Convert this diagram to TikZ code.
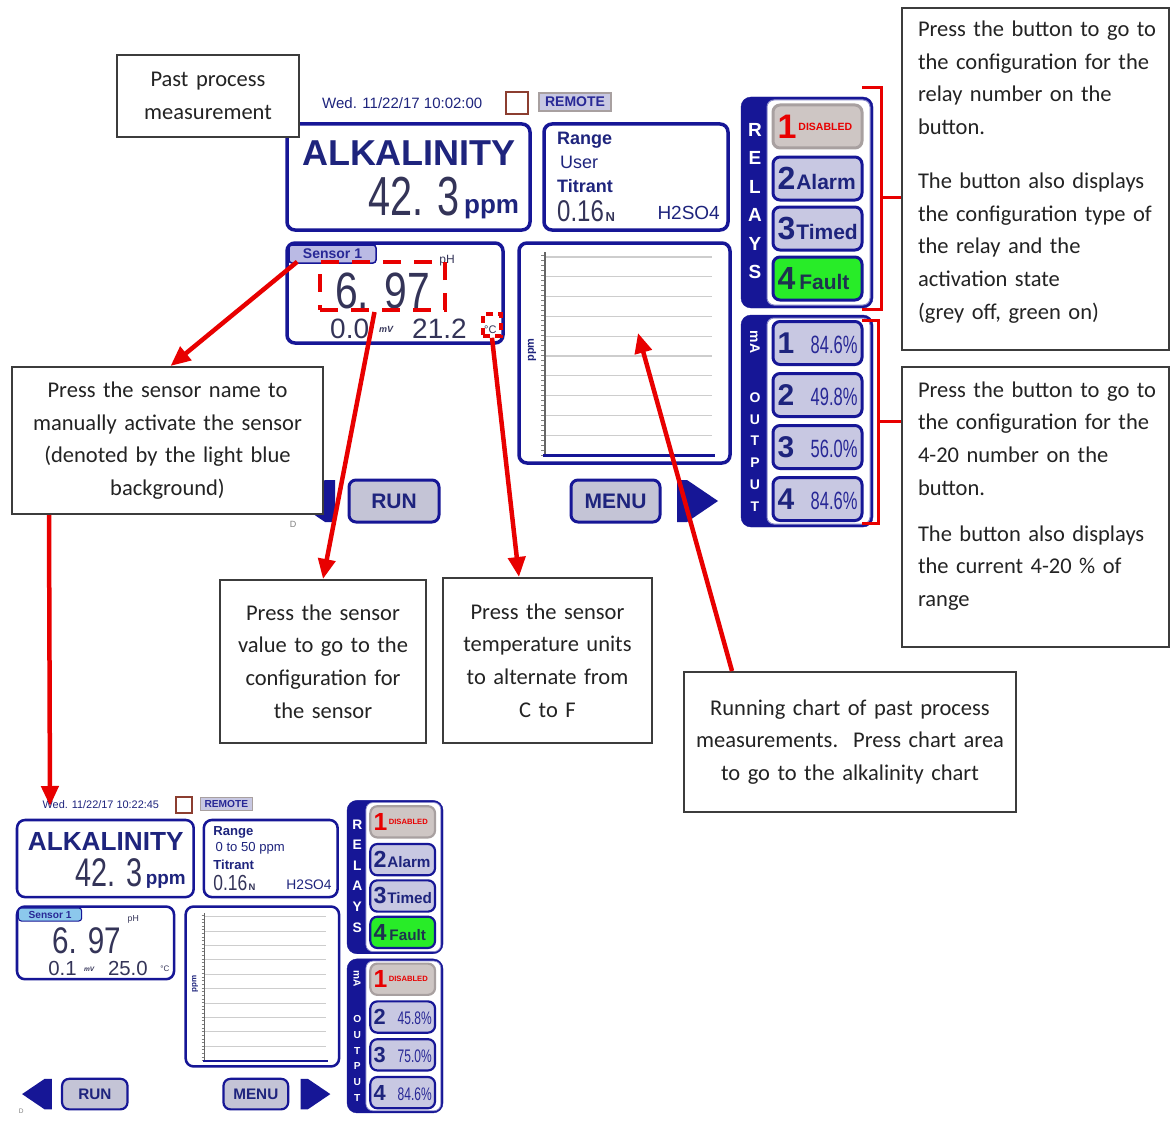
\documentclass[tikz,border=0pt]{standalone}
\usepackage{fontspec}
\setmainfont{Carlito}
\newfontfamily\scr{Liberation Sans}
\usetikzlibrary{arrows.meta,calc}
\definecolor{navy}{RGB}{22,22,150}
\definecolor{navytext}{RGB}{30,36,125}
\definecolor{digit}{RGB}{52,52,88}
\definecolor{btnfill}{RGB}{200,200,226}
\definecolor{runfill}{RGB}{196,196,214}
\definecolor{disfill}{RGB}{206,198,196}
\definecolor{disline}{RGB}{168,160,160}
\definecolor{faultgreen}{RGB}{40,236,40}
\definecolor{faulttext}{RGB}{30,50,80}
\definecolor{redline}{RGB}{232,0,0}
\definecolor{tabgrey}{RGB}{186,186,228}
\definecolor{tabblue}{RGB}{140,200,236}
\definecolor{gridgrey}{RGB}{205,205,205}
\definecolor{boxline}{RGB}{60,60,60}
\definecolor{notetext}{RGB}{35,35,35}
\definecolor{brownsq}{RGB}{140,62,48}
\definecolor{pcttext}{RGB}{40,40,150}
\newcommand\myfs[1]{\fontsize{#1}{#1}\selectfont}
\newcommand\condtxt[3]{\scalebox{#1}[1]{\myfs{#2}#3}}
\newcommand\outtxt[2]{\makebox[80pt]{\bfseries\myfs{30}#1\hfill\mdseries\color{pcttext}\condtxt{0.66}{25}{#2}}}
\newcommand\distxt{\makebox[80pt][l]{\color{redline}\bfseries\myfs{34}1\hspace{2pt}\raisebox{8pt}{\myfs{10.5}DISABLED}}}

\newcommand\drawscreen[1]{%
  \node[anchor=west, inner sep=0, text=navytext] (#1date) at (35,-21) {\scr\myfs{15}\Sdate};
  \draw[brownsq, line width=2.5pt*\lwf] (219,-32) rectangle (241,-10);
  \node[draw=disline, fill=btnfill, line width=1.5pt*\lwf, minimum width=72pt, minimum height=18pt, inner sep=0, text=pcttext] (#1remote) at (288,-22) {\scr\bfseries\myfs{14}REMOTE};
  % alkalinity
  \draw[scrbox] (0,0) rectangle (243,106);
  \node[inner sep=0, text=navytext] (#1alk) at (122,29) {\scr\bfseries\myfs{36}ALKALINITY};
  \node[anchor=base east, inner sep=0, text=digit] (#1val) at (173,91) {\scr\condtxt{0.72}{55}{42. 3}};
  \node[anchor=base west, inner sep=0, text=navytext] (#1ppm) at (177,89) {\scr\bfseries\myfs{26}ppm};
  % range
  \draw[scrbox] (257,0) rectangle (441,106);
  \node[anchor=base west, inner sep=0, text=navytext] (#1rng) at (270,21) {\scr\bfseries\myfs{18}Range};
  \node[anchor=base west, inner sep=0, text=navytext] (#1rngv) at (273,44) {\scr\myfs{18}\Srange};
  \node[anchor=base west, inner sep=0, text=navytext] (#1tit) at (270,68) {\scr\bfseries\myfs{18}Titrant};
  \node[anchor=base west, inner sep=0, text=digit] (#1titv) at (270,97) {\scr\condtxt{0.8}{30}{0.16}\,\bfseries\myfs{13}N};
  \node[anchor=base east, inner sep=0, text=navytext] (#1acid) at (433,95) {\scr\myfs{19}H2SO4};
  % sensor
  \draw[scrbox] (0,119) rectangle (216,219);
  \node[tabfill, draw=navy, line width=1.5pt*\lwf, rounded corners=3pt, minimum width=87pt, minimum height=18pt, inner sep=0, text=pcttext] (#1sens) at (45.5,130) {\scr\bfseries\myfs{14}Sensor 1};
  \node[inner sep=0, text=digit] (#1ph) at (160,137) {\scr\myfs{12}pH};
  \node[anchor=base west, inner sep=0, text=digit] (#1sv) at (48,184) {\scr\condtxt{0.8}{51}{6. 97}};
  \node[anchor=base west, inner sep=0, text=digit] (#1mv) at (43,214) {\scr\myfs{28}\Sva};
  \node[anchor=base west, inner sep=0, text=digit] (#1mvu) at (92,208) {\scr\bfseries\itshape\myfs{9}mV};
  \node[anchor=base west, inner sep=0, text=digit] (#1tv) at (125,214) {\scr\myfs{28}\Svb};
  \node[anchor=base west, inner sep=0, text=digit] (#1tu) at (197,209) {\scr\myfs{11}°C};
  % chart
  \draw[scrbox] (232,119) rectangle (443,339);
  \foreach \k in {0,...,9} \draw[gridgrey, line width=1.3pt*\lwf] (258,{133+\k*19.8}) -- (425,{133+\k*19.8});
  \foreach \k in {0,...,40} \draw[gray, line width=0.8pt*\lwf] (254,{131+\k*5}) -- (258,{131+\k*5});
  \draw[gray!80!black, line width=1.6pt*\lwf] (258,128) -- (258,331);
  \draw[navy, line width=3pt*\lwf] (256,331) -- (428,331);
  \node[rotate=90, inner sep=0, text=navytext] (#1cy) at (245,226) {\scr\bfseries\myfs{11}ppm};
  % bottom buttons
  \node[scrbtn, fill=runfill, minimum width=90pt, minimum height=42pt] (#1run) at (107,377) {\bfseries\myfs{21}RUN};
  \node[scrbtn, fill=runfill, minimum width=89pt, minimum height=42pt] (#1menu) at (328.5,377) {\bfseries\myfs{21}MENU};
  \fill[navy] (7,377) -- (38,356) -- (48,356) -- (48,398) -- (38,398) -- cycle;
  \fill[navy] (390,356) -- (400,356) -- (431,377) -- (400,398) -- (390,398) -- cycle;
  \node[inner sep=0, text=gray] (#1copy) at (6,400) {\scr\myfs{9}D};
  % relays
  \draw[fill=navy, draw=navy, rounded corners=10pt] (454,-27) rectangle (586,184);
  \draw[fill=white, draw=navy!50, line width=1pt*\lwf, rounded corners=7pt] (480,-24) rectangle (583,181);
  \node[align=center, inner sep=0, text=white, font=\scr\bfseries\fontsize{19}{28.4}\selectfont] (#1rlab) at (468,77) {R\\E\\L\\A\\Y\\S};
  \node[relaydis] (#1r1) at (530.5,2.5) {\distxt};
  \node[scrbtn, fill=btnfill] (#1r2) at (530.5,54.5) {\makebox[80pt][l]{\bfseries\myfs{32}2\hspace{1pt}\myfs{21}Alarm}};
  \node[scrbtn, fill=btnfill] (#1r3) at (530.5,104.5) {\makebox[80pt][l]{\bfseries\myfs{32}3\hspace{1pt}\myfs{21}Timed}};
  \node[scrbtn, fill=faultgreen, text=faulttext] (#1r4) at (530.5,154.5) {\makebox[80pt][l]{\bfseries\myfs{32}4\hspace{4pt}\myfs{21}Fault}};
  % mA output
  \draw[fill=navy, draw=navy, rounded corners=10pt] (454,191) rectangle (586,403);
  \draw[fill=white, draw=navy!50, line width=1pt*\lwf, rounded corners=7pt] (480,194) rectangle (583,400);
  \node[rotate=-90, inner sep=0, text=white] (#1ma) at (468,218) {\scr\bfseries\myfs{14}mA};
  \node[align=center, inner sep=0, text=white, font=\scr\bfseries\fontsize{14}{21.8}\selectfont] (#1olab) at (468,328) {O\\U\\T\\P\\U\\T};
  \node[outone] (#1o1) at (530.5,219) {\Soutone};
  \node[scrbtn, fill=btnfill] (#1o2) at (530.5,271) {\outtxt{2}{\Souttwo}};
  \node[scrbtn, fill=btnfill] (#1o3) at (530.5,323) {\outtxt{3}{\Soutthree}};
  \node[scrbtn, fill=btnfill] (#1o4) at (530.5,375) {\outtxt{4}{\Soutfour}};
}

\begin{document}
\begin{tikzpicture}[x=1pt,y=-1pt,
  scrbox/.style={draw=navy, line width=3.5pt*\lwf, rounded corners=8pt, fill=white},
  scrbtn/.style={draw=navy, line width=3pt*\lwf, rounded corners=7pt, minimum width=89pt, minimum height=43pt, inner sep=0, font=\scr, text=navytext},
  relaydis/.style={scrbtn, fill=disfill, draw=disline},
  note/.style={draw=boxline, line width=2pt, fill=white, inner sep=0, align=center, font=\fontsize{22.5}{32.7}\selectfont, text=notetext},
  notetxt/.style={inner sep=0, align=left, text width=252pt, font=\fontsize{22.5}{32.7}\selectfont, text=notetext},
  redarrow/.style={draw=redline, line width=4.5pt, -{Triangle[length=20pt,width=17pt]}},
  bracket/.style={draw=redline, line width=3pt}]
\useasboundingbox (0,0) rectangle (1175,1121);
\fill[white] (0,0) rectangle (1175,1121);

% ---- top screen
\def\lwf{1}
\def\Sdate{Wed. 11/22/17 10:02:00}
\def\Srange{User}
\def\Sva{0.0}
\def\Svb{21.2}
\def\Soutone{\outtxt{1}{84.6\%}}
\def\Souttwo{49.8\%}
\def\Soutthree{56.0\%}
\def\Soutfour{84.6\%}
\tikzset{tabfill/.style={fill=tabgrey}, outone/.style={scrbtn, fill=btnfill}}
\begin{scope}[shift={(287,124)}]
\drawscreen{T}
\end{scope}

% ---- bottom screen
\def\lwf{0.727}
\def\Sdate{Wed. 11/22/17 10:22:45}
\def\Srange{0 to 50 ppm}
\def\Sva{0.1}
\def\Svb{25.0}
\def\Soutone{\distxt}
\def\Souttwo{45.8\%}
\def\Soutthree{75.0\%}
\def\Soutfour{84.6\%}
\tikzset{tabfill/.style={fill=tabblue}, outone/.style={relaydis}}
\begin{scope}[shift={(17,820)}, scale=0.727, transform shape]
\drawscreen{B}
\end{scope}

% ---- red dashed highlights
\node[draw=redline, dash pattern=on 18pt off 13pt, line width=4pt, minimum width=125pt, minimum height=48pt, inner sep=0] (dashval) at (382.5,286) {};
\node[draw=redline, dash pattern=on 7pt off 5pt, line width=3.5pt, minimum width=18pt, minimum height=22pt, inner sep=0] (dashtemp) at (492,325) {};

% ---- annotation boxes
\node[note, minimum width=182pt, minimum height=82pt, text width=178pt] (past) at (208,96) {Past process\\measurement};
\node[note, minimum width=311pt, minimum height=147pt, text width=305pt] (namenote) at (167.5,440.5) {Press the sensor name to\\manually activate the sensor\\(denoted by the light blue\\background)};
\node[note, minimum width=206pt, minimum height=163pt, text width=200pt] (valuenote) at (323,661.5) {Press the sensor\\value to go to the\\configuration for\\the sensor};
\node[note, minimum width=209pt, minimum height=165pt, text width=203pt] (tempnote) at (547.5,660.5) {Press the sensor\\temperature units\\to alternate from\\C to F};
\node[note, minimum width=332pt, minimum height=140pt, text width=326pt] (chartnote) at (850,742) {Running chart of past process\\measurements.\ \ Press chart area\\to go to the alkalinity chart};
\node[note, minimum width=267pt, minimum height=342pt] (relnote) at (1035.5,179) {};
\node[notetxt] (reltext) at (1044,172) {Press the button to go to\\the configuration for the\\relay number on the\\button.\\[21pt]The button also displays\\the configuration type of\\the relay and the\\activation state\\(grey off, green on)};
\node[note, minimum width=267pt, minimum height=280pt] (manote) at (1035.5,507) {};
\node[notetxt] (matext) at (1044,496) {Press the button to go to\\the configuration for the\\4-20 number on the\\button.\\[13pt]The button also displays\\the current 4-20 \% of\\range};

% ---- brackets
\coordinate (rb) at (881,197);
\coordinate (mb) at (878,421);
\draw[bracket] (862,88) -- (881,88) -- (881,309) -- (862,309);
\draw[bracket] (rb) -- (relnote.west |- rb);
\draw[bracket] (862,320) -- (878,320) -- (878,523) -- (862,523);
\draw[bracket] (mb) -- (manote.west |- mb);

% ---- arrows
\coordinate (chartpt) at (638,333);
\coordinate (bottip) at (50,806);
\draw[redarrow] ($(Tsens.south west)+(9,-2)$) -- ($(namenote.north)+(3,0)$);
\draw[redarrow] ($(dashval.south)+(-8,0)$) -- (valuenote.north);
\draw[redarrow] (dashtemp.south) -- ($(tempnote.north west)+(77,0)$);
\draw[redarrow] ($(chartnote.north west)+(49,0)$) -- (chartpt);
\draw[redarrow] ($(namenote.south west)+(38,0)$) -- (bottip);
\end{tikzpicture}
\end{document}
